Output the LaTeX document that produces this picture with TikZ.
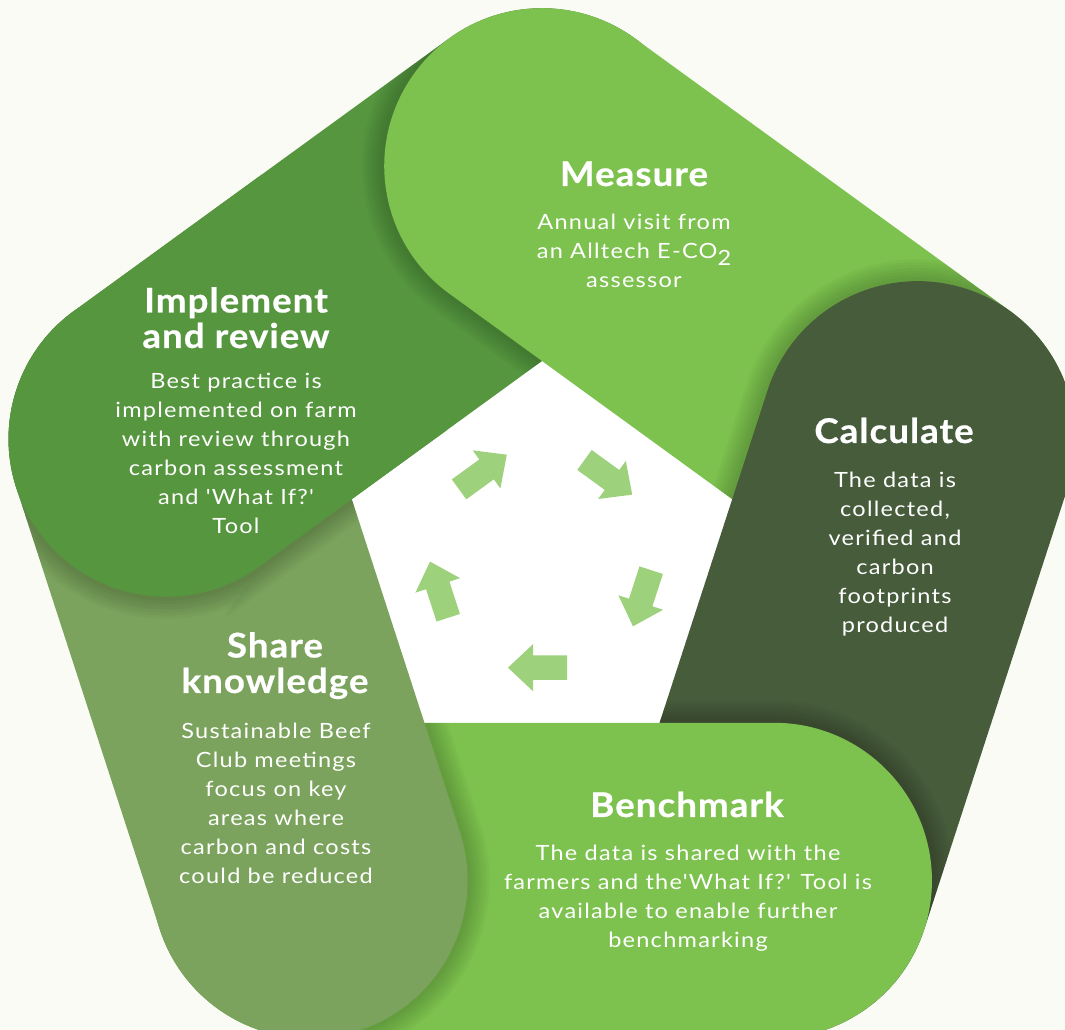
\documentclass[tikz,border=0pt]{standalone}
\usepackage{fontspec}
\setmainfont{Lato}[Ligatures=TeXOff]
\newfontfamily\bodyf{Lato}[Ligatures=TeXOff, FakeStretch=1.12, LetterSpace=6]
\newfontfamily\titlef{Lato}[Ligatures=TeXOff, FakeStretch=1.08, LetterSpace=3, BoldFeatures={FakeBold=0.6}]
\usetikzlibrary{calc}
\definecolor{bgc}{HTML}{FAFBF5}
\definecolor{gMeasure}{HTML}{7DC24F}
\definecolor{gImpl}{HTML}{56963F}
\definecolor{gCalc}{HTML}{465C3B}
\definecolor{gShare}{HTML}{7BA35D}
\definecolor{gArrow}{HTML}{9DD17B}
\newcommand\Dc{395}
\newcommand\Rb{157.76}
\newcommand\bandpath{([shift={(-126:\Rb)}]90:\Dc) -- ([shift={(-126:\Rb)}]18:\Dc) arc[start angle=-126,end angle=54,radius=\Rb] -- ([shift={(54:\Rb)}]90:\Dc) arc[start angle=54,end angle=234,radius=\Rb] -- cycle}
\newcommand\bandshadow{%
  \foreach \w in {44,38,32,26,20,14,8}{\draw[line width=\w, black, opacity=0.028] \bandpath;}}
\tikzset{
  ttl/.style={text=white, align=center, anchor=base, inner sep=0pt, font=\fontsize{34}{35.5}\selectfont\titlef\bfseries},
  bdy/.style={text=white, align=center, anchor=base, inner sep=0pt, font=\fontsize{21}{29}\selectfont\bodyf},
}
\begin{document}
\begin{tikzpicture}[x=1pt,y=1pt]
\useasboundingbox (0,0) rectangle (1065,1030);
\clip (0,0) rectangle (1065,1030);
\fill[bgc] (0,0) rectangle (1065,1030);
\coordinate (O) at (542,469);
% white centre pentagon
\fill[white,shift={(O)}] (90:200) -- (18:200) -- (-54:200) -- (-126:200) -- (162:200) -- cycle;
% Implement band (full, below Measure)
\begin{scope}[shift={(O)},rotate=-288]
  \fill[gImpl] \bandpath;
\end{scope}
% Measure, Calculate, Benchmark, Share with shadows on the band below
\foreach \k/\col in {0/gMeasure,1/gCalc,2/gMeasure,3/gShare}{
  \begin{scope}[shift={(O)}]
    \begin{scope}[rotate=-72*\k+72]
      \clip \bandpath;
      \begin{scope}[rotate=-72]
        \bandshadow
      \end{scope}
    \end{scope}
    \begin{scope}[rotate=-72*\k]
      \fill[\col] \bandpath;
    \end{scope}
  \end{scope}
}
% Implement cap half, on top of Share
\begin{scope}[shift={(O)}]
  \clip (126:3000) -- (216:3000) -- (306:3000) -- cycle;
  \begin{scope}[rotate=-216]
    \clip \bandpath;
    \begin{scope}[rotate=-72]
      \bandshadow
    \end{scope}
  \end{scope}
  \begin{scope}[rotate=-288]
    \fill[gImpl] \bandpath;
  \end{scope}
\end{scope}
% cycle arrows
\foreach \k in {0,...,4}{
  \fill[gArrow,shift={(O)},rotate=-72*\k] (25,-94.4) -- (-9,-94.4) -- (-9,-83.2) -- (-34,-106.7) -- (-9,-130.2) -- (-9,-119) -- (25,-119) -- cycle;
}
% texts (anchor base = baseline of the last line)
\node[ttl] (mT) at (634,844) {Measure};
\node[bdy] (mB) at (634,742) {Annual visit from\\an Alltech E-CO\raisebox{-0.3em}{2}\\assessor};
\node[ttl] (iT) at (236,682) {Implement\\and review};
\node[bdy] (iB) at (236,496) {Best practice is\\implemented on farm\\with review through\\carbon assessment\\and 'What If?'\\Tool};
\node[ttl] (cT) at (894,587) {Calculate};
\node[bdy] (cB) at (895,397) {The data is\\collected,\\verified and\\carbon\\footprints\\produced};
\node[ttl] (sT) at (275,337) {Share\\knowledge};
\node[bdy] (sB) at (276,146) {Sustainable Beef\\Club meetings\\focus on key\\areas where\\carbon and costs\\could be reduced};
\node[ttl] (bT) at (687,213) {Benchmark};
\node[bdy] (bB) at (688,82) {The data is shared with the\\farmers and the'What If?' Tool is\\available to enable further\\benchmarking};
\end{tikzpicture}
\end{document}
